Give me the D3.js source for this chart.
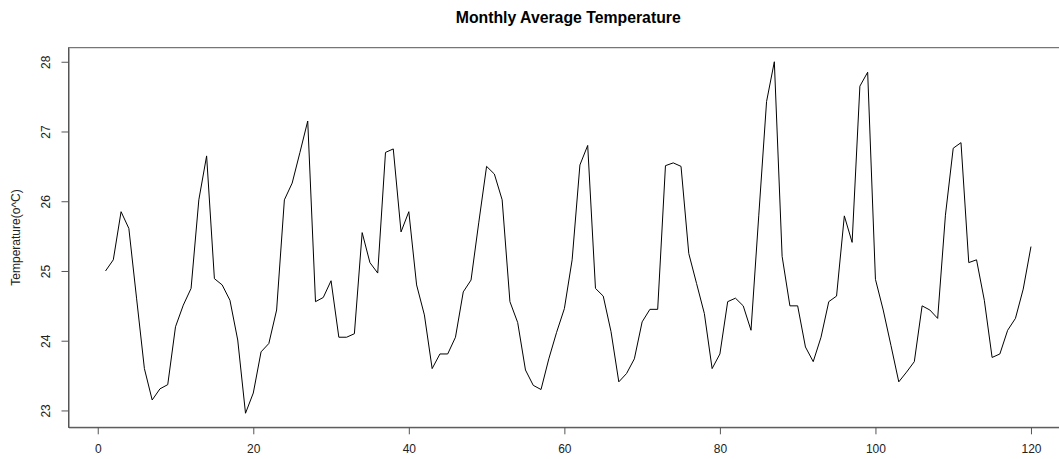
<!DOCTYPE html>
<head>
  <meta charset="utf-8">
  <script src="https://d3js.org/d3.v7.min.js"></script>
  <style>
    body { margin:0; background:#fff; }
    text { font-family: "Liberation Sans", Arial, sans-serif; }
  </style>
</head>
<body>
  <div class="line-chart"></div>
  <script>
    // monthly average temperature, months 1..120
    const months = d3.range(1, 121);
    const temps = [
      25.00, 25.16, 25.85, 25.61, 24.60, 23.60, 23.15, 23.31, 23.37, 24.20,
      24.51, 24.75, 26.02, 26.65, 24.89, 24.80, 24.58, 24.01, 22.96, 23.25,
      23.84, 23.96, 24.44, 26.02, 26.26, 26.70, 27.15, 24.56, 24.62, 24.86,
      24.05, 24.05, 24.10, 25.55, 25.12, 24.97, 26.70, 26.75, 25.56, 25.85,
      24.80, 24.37, 23.60, 23.81, 23.81, 24.05, 24.70, 24.87, 25.70, 26.50,
      26.39, 26.02, 24.56, 24.26, 23.58, 23.36, 23.30, 23.74, 24.12, 24.46,
      25.16, 26.52, 26.80, 24.75, 24.64, 24.13, 23.41, 23.53, 23.74, 24.27,
      24.45, 24.45, 26.51, 26.55, 26.50, 25.25, 24.82, 24.39, 23.60, 23.81,
      24.56, 24.61, 24.50, 24.15, 25.80, 27.43, 28.00, 25.21, 24.50, 24.50,
      23.91, 23.70, 24.05, 24.56, 24.64, 25.79, 25.41, 27.65, 27.85, 24.88,
      24.44, 23.93, 23.41, 23.55, 23.70, 24.50, 24.44, 24.32, 25.80, 26.76,
      26.84, 25.12, 25.16, 24.58, 23.76, 23.81, 24.15, 24.32, 24.74, 25.35
    ];
    const xTicks = [0, 20, 40, 60, 80, 100, 120];
    const yTicks = [23, 24, 25, 26, 27, 28];

    const width = 1059, height = 459;
    const box = { left: 68.5, top: 47.7, right: 1068, bottom: 427.3 };

    const svg = d3.select('.line-chart')
      .append('svg')
        .attr('width', width)
        .attr('height', height);

    // R-style 4% padding around data range
    const pad = (ext) => { const r = ext[1] - ext[0]; return [ext[0] - 0.04 * r, ext[1] + 0.04 * r]; };

    const xScale = d3.scaleLinear()
      .domain(pad(d3.extent(months)))
      .range([box.left, box.right]);

    const yScale = d3.scaleLinear()
      .domain(pad(d3.extent(temps)))
      .range([box.bottom, box.top]);

    // plot frame
    svg.append('rect')
      .attr('x', box.left)
      .attr('y', box.top)
      .attr('width', box.right - box.left)
      .attr('height', box.bottom - box.top)
      .style('fill', 'none')
      .style('stroke', '#555')
      .style('stroke-width', 1);

    const xAxis = svg.append('g')
      .attr('transform', `translate(0, ${box.bottom})`)
      .call(d3.axisBottom(xScale).tickValues(xTicks).tickSize(7).tickSizeOuter(0).tickPadding(10));
    xAxis.select('.domain').style('stroke', '#555');
    xAxis.selectAll('line').style('stroke', '#555');
    xAxis.selectAll('text')
      .style('font-size', '12px')
      .style('fill', '#222');

    const yAxis = svg.append('g')
      .attr('transform', `translate(${box.left}, 0)`)
      .call(d3.axisLeft(yScale).tickValues(yTicks).tickFormat(d3.format('d')).tickSize(7).tickSizeOuter(0));
    yAxis.select('.domain').style('stroke', '#555');
    yAxis.selectAll('line').style('stroke', '#555');
    yAxis.selectAll('text')
      .attr('x', null)
      .attr('dy', null)
      .attr('transform', 'rotate(-90)')
      .attr('text-anchor', 'middle')
      .attr('y', -22.5)
      .attr('dominant-baseline', 'central')
      .style('font-size', '12px')
      .style('fill', '#222');

    const line = d3.line()
      .x((d, i) => xScale(months[i]))
      .y(d => yScale(d));

    svg.append('path')
      .datum(temps)
      .attr('d', line)
      .style('fill', 'none')
      .style('stroke', '#000')
      .style('stroke-width', 1);

    svg.append('text')
      .attr('x', (box.left + box.right) / 2)
      .attr('y', 22.5)
      .attr('text-anchor', 'middle')
      .style('font-size', '15.8px')
      .style('font-weight', 'bold')
      .text('Monthly Average Temperature');

    svg.append('text')
      .attr('transform', `translate(16, ${(box.top + box.bottom) / 2}) rotate(-90)`)
      .attr('text-anchor', 'middle')
      .attr('dominant-baseline', 'central')
      .style('font-size', '12px')
      .style('fill', '#222')
      .text('Temperature(o^C)');
  </script>
</body>
</html>
